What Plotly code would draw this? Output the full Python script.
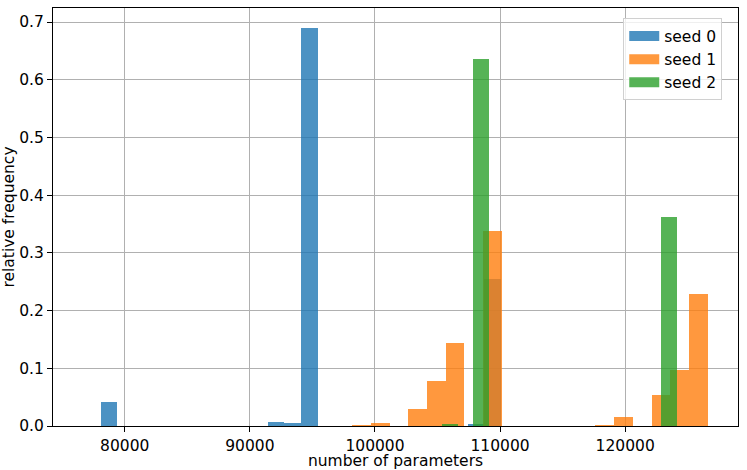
import plotly.graph_objects as go

# ---- data (histogram bins) ----
seeds = ["seed 0", "seed 1", "seed 2"]
colors = ["#1f77b4", "#ff7f0e", "#2ca02c"]

# seed 0
start_seed0 = 78080
width_seed0 = 1333
freq_seed0 = [0.041, 0, 0, 0, 0, 0, 0, 0, 0, 0, 0.0064, 0.0047, 0.690,
              0, 0, 0, 0, 0, 0, 0, 0, 0, 0.0035, 0.254]

# seed 1
start_seed1 = 98176
width_seed1 = 1496
freq_seed1 = [0.001, 0.0057, 0, 0.0295, 0.0785, 0.1433, 0, 0.3385, 0, 0,
              0, 0, 0, 0.001, 0.0156, 0, 0.0537, 0.097, 0.229]

# seed 2
start_seed2 = 105361
width_seed2 = 1251
freq_seed2 = [0.002, 0, 0.636, 0, 0, 0, 0, 0, 0, 0, 0, 0, 0, 0, 0.362]

x_ticks = [80000, 90000, 100000, 110000, 120000]
y_ticks = [0.0, 0.1, 0.2, 0.3, 0.4, 0.5, 0.6, 0.7]

series = [
    (start_seed0, width_seed0, freq_seed0),
    (start_seed1, width_seed1, freq_seed1),
    (start_seed2, width_seed2, freq_seed2),
]

fig = go.Figure()
for name, color, (start, width, freq) in zip(seeds, colors, series):
    centers = [start + (i + 0.5) * width for i in range(len(freq))]
    fig.add_trace(go.Bar(
        x=centers, y=freq, width=[width] * len(freq),
        marker=dict(color=color, line=dict(width=0)),
        opacity=0.8, name=name, showlegend=False,
    ))
# legend entries (wide patches like matplotlib)
for name, color in zip(seeds, colors):
    fig.add_trace(go.Scatter(
        x=[None], y=[None], mode="lines", name=name,
        line=dict(color=color, width=10), opacity=0.8,
    ))

font = "DejaVu Sans, sans-serif"
fs = 15.5
fig.update_layout(
    width=747, height=470,
    margin=dict(l=53, r=9, t=8, b=44),
    barmode="overlay", bargap=0,
    plot_bgcolor="white", paper_bgcolor="white",
    font=dict(family=font, size=fs, color="black"),
    legend=dict(
        x=0.977, y=0.975, xanchor="right", yanchor="top",
        bgcolor="rgba(255,255,255,0.8)", bordercolor="#d0d0d0", borderwidth=1,
        font=dict(size=fs), itemwidth=30, tracegroupgap=0,
    ),
    xaxis=dict(
        range=[74264, 129016], automargin=False,
        tickvals=x_ticks, tickformat="d",
        ticks="outside", ticklen=5, tickcolor="black", tickwidth=1,
        showgrid=True, gridcolor="#b0b0b0", gridwidth=1,
        showline=True, linecolor="black", linewidth=1, mirror=True,
        zeroline=False,
        title=dict(text="number of parameters", standoff=1, font=dict(size=fs)),
    ),
    yaxis=dict(
        range=[0, 0.7243], automargin=False,
        tickvals=y_ticks, tickformat=".1f",
        ticks="outside", ticklen=5, tickcolor="black", tickwidth=1,
        showgrid=True, gridcolor="#b0b0b0", gridwidth=1,
        showline=True, linecolor="black", linewidth=1, mirror=True,
        zeroline=False,
        title=dict(text="relative frequency", standoff=2, font=dict(size=fs)),
    ),
)

fig.write_html("out.html", config={"displayModeBar": False},
               post_script="document.body.style.margin='0';")
